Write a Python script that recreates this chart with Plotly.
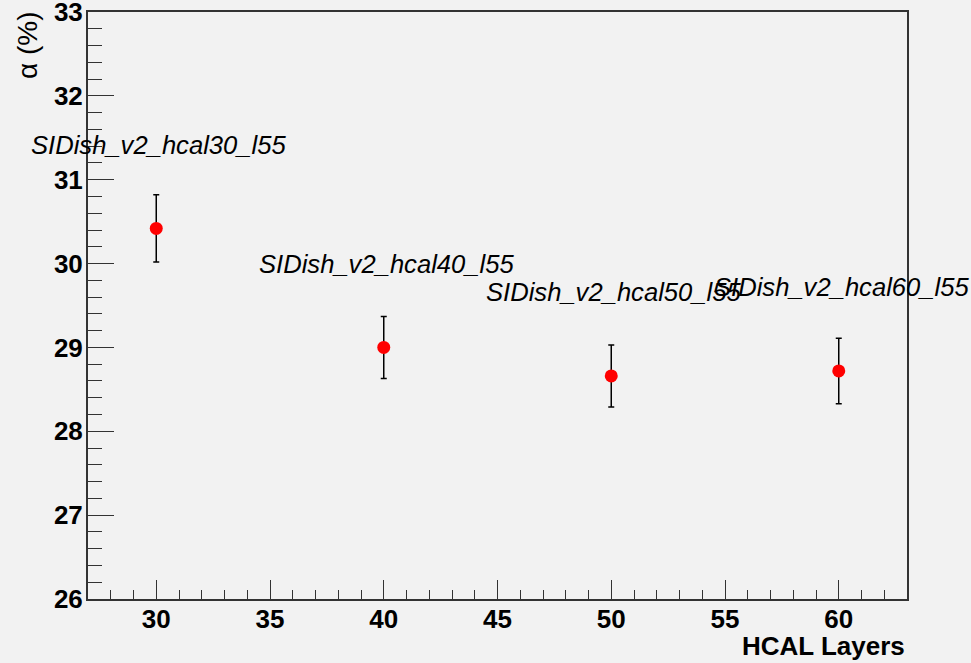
import plotly.graph_objects as go

layers = [30, 40, 50, 60]
alpha = [30.42, 29.00, 28.66, 28.72]
alpha_err = [0.40, 0.37, 0.37, 0.39]
names = ["SIDish_v2_hcal30_l55", "SIDish_v2_hcal40_l55",
         "SIDish_v2_hcal50_l55", "SIDish_v2_hcal60_l55"]

BG = "#f2f2f2"
AX = "#333333"
FONT = "Liberation Sans, Arial, sans-serif"

fig = go.Figure()
fig.add_trace(go.Scatter(
    x=layers, y=alpha, mode="markers",
    marker=dict(color="#ff0000", size=13, line=dict(width=0)),
    error_y=dict(type="data", array=alpha_err, color="black", thickness=1.5, width=3),
    showlegend=False,
))

for x, y, n in zip(layers, alpha, names):
    fig.add_annotation(x=x, y=y + 1.0, text=n, showarrow=False,
                       xanchor="left", yanchor="middle", xshift=-127, yshift=0,
                       font=dict(family=FONT, size=25.6, color="black", style="italic"))

fig.add_annotation(xref="paper", yref="paper", x=(27 - 88) / 819, y=1 + 3 / 587,
                   text="α (%)", showarrow=False, textangle=-90,
                   xanchor="center", yanchor="top",
                   font=dict(family=FONT, size=28, color="black"))
fig.add_annotation(xref="paper", yref="paper", x=1, y=-(646 - 599) / 587,
                   text="<b>HCAL Layers</b>", showarrow=False,
                   xanchor="right", yanchor="middle",
                   font=dict(family=FONT, size=26, color="black"))

fig.update_xaxes(range=[27, 63], tickmode="linear", tick0=30, dtick=5,
                 ticks="inside", ticklen=19, tickwidth=1.2, tickcolor=AX,
                 minor=dict(ticks="inside", dtick=1, tick0=30, ticklen=9, tickwidth=1.2, tickcolor=AX),
                 showgrid=False, zeroline=False, showline=True, linecolor=AX, linewidth=2,
                 mirror=True, ticklabelstandoff=-4,
                 tickfont=dict(family=FONT, size=26, color="black", weight="bold"))
fig.update_yaxes(range=[26, 33.0005], tickmode="array", tickvals=[26, 27, 28, 29, 30, 31, 32, 33],
                 ticks="inside", ticklen=26, tickwidth=1.2, tickcolor=AX,
                 minor=dict(ticks="inside", dtick=0.2, tick0=26, ticklen=14, tickwidth=1.2, tickcolor=AX),
                 showgrid=False, zeroline=False, showline=True, linecolor=AX, linewidth=2,
                 mirror=True, ticklabelstandoff=-2, ticklabeloverflow="allow",
                 tickfont=dict(family=FONT, size=26, color="black", weight="bold"))

fig.update_layout(width=971, height=663, paper_bgcolor=BG, plot_bgcolor=BG,
                  margin=dict(l=88, r=64, t=12, b=64, autoexpand=False))

fig.write_html("out.html")
